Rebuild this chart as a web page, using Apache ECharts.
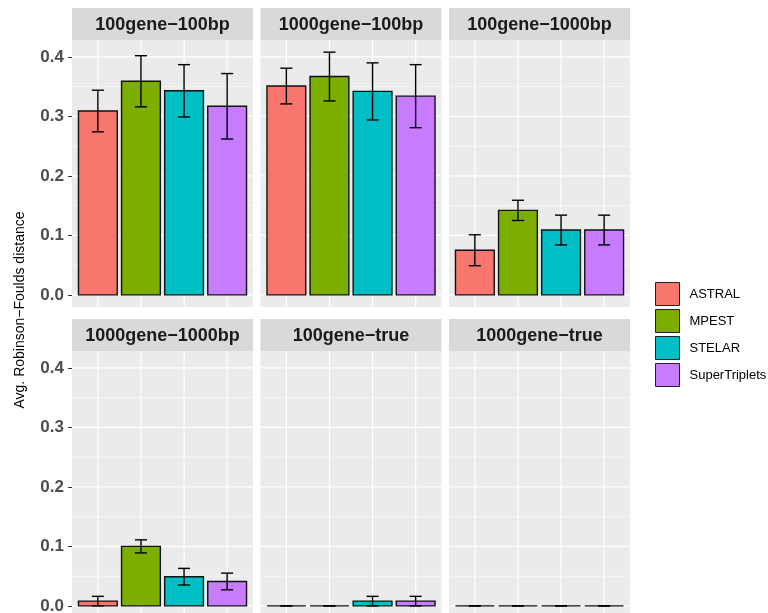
<!DOCTYPE html>
<html>
<head>
<meta charset="utf-8">
<script src="https://cdn.jsdelivr.net/npm/echarts@6/dist/echarts.min.js"></script>
<style>
html,body{margin:0;padding:0;background:#fff;overflow:hidden;}
#chart{width:768px;height:620px;}
</style>
</head>
<body>
<div id="chart"></div>
<script>
// ---- data ----
const panels = ['100gene\u2212100bp', '1000gene\u2212100bp', '100gene\u22121000bp', '1000gene\u22121000bp', '100gene\u2212true', '1000gene\u2212true'];
const methods = ['ASTRAL', 'MPEST', 'STELAR', 'SuperTriplets'];
const astral = [0.309, 0.351, 0.075, 0.008, 0, 0];
const mpest = [0.359, 0.367, 0.142, 0.100, 0, 0];
const stelar = [0.343, 0.342, 0.109, 0.049, 0.008, 0];
const supertriplets = [0.317, 0.334, 0.109, 0.041, 0.008, 0];
const astralErr = [0.035, 0.030, 0.026, 0.008, 0, 0];
const mpestErr = [0.043, 0.041, 0.017, 0.011, 0, 0];
const stelarErr = [0.044, 0.048, 0.025, 0.014, 0.008, 0];
const supertripletsErr = [0.055, 0.053, 0.025, 0.014, 0.008, 0];
const yMajor = [0, 0.1, 0.2, 0.3, 0.4];
const yMinor = [0.05, 0.15, 0.25, 0.35];
const yTitle = 'Avg. Robinson\u2212Foulds distance';

// ---- styling / layout ----
const colors = ['#F8766D', '#7CAE00', '#00BFC4', '#C77CFF'];
const means = [astral, mpest, stelar, supertriplets];
const errs = [astralErr, mpestErr, stelarErr, supertripletsErr];
const colLeft = [72, 260.5, 449];
const rowTop = [40, 351];
const pw = 181, ph = 267, stripH = 32;
const yMin = -0.0204, yMax = 0.4284;
const font = '"Liberation Sans", Arial, Helvetica, sans-serif';

const grids = [], xAxes = [], yAxes = [], series = [], graphics = [];

panels.forEach((name, p) => {
  const r = Math.floor(p / 3), c = p % 3;
  const left = colLeft[c], top = rowTop[r];
  grids.push({left: left, top: top, width: pw, height: ph, show: true, backgroundColor: '#EBEBEB', borderWidth: 0});
  xAxes.push({gridIndex: p, type: 'value', min: 0.4, max: 4.6, show: true,
    axisLine: {show: false}, axisTick: {show: false}, axisLabel: {show: false}, splitLine: {show: false}});
  const isLeft = c === 0;
  yAxes.push({gridIndex: p, type: 'value', min: yMin, max: yMax,
    axisLine: {show: false},
    splitLine: {show: false},
    axisTick: {show: isLeft, length: 4, lineStyle: {color: '#333', width: 1}, customValues: yMajor},
    axisLabel: {show: isLeft, customValues: yMajor, margin: 8,
      color: '#4D4D4D', fontSize: 17, fontWeight: 'bold', fontFamily: font,
      formatter: v => (Math.abs(v * 10 - Math.round(v * 10)) < 1e-6 && v > -1e-9 && v < 0.4 + 1e-9) ? v.toFixed(1) : ''}
  });
  // gridlines
  const gdata = [];
  yMajor.forEach(v => gdata.push([1, v, 0]));
  yMinor.forEach(v => gdata.push([1, v, 1]));
  methods.forEach((m, i) => gdata.push([i + 1, 0, 2]));
  series.push({
    type: 'custom', xAxisIndex: p, yAxisIndex: p, z: 1, silent: true,
    data: gdata, encode: {x: 0, y: 1},
    renderItem: function (params, api) {
      const cs = params.coordSys;
      const kind = api.value(2);
      if (kind === 2) {
        const px = api.coord([api.value(0), 0])[0];
        return {type: 'line', shape: {x1: px, y1: cs.y, x2: px, y2: cs.y + cs.height},
          style: {stroke: '#FFFFFF', lineWidth: 1.2}};
      }
      const py = api.coord([1, api.value(1)])[1];
      return {type: 'line', shape: {x1: cs.x, y1: py, x2: cs.x + cs.width, y2: py},
        style: {stroke: '#FFFFFF', lineWidth: kind === 0 ? 1.2 : 0.6}};
    }
  });
  // bars + error bars
  methods.forEach((m, i) => {
    series.push({
      type: 'custom', name: m, xAxisIndex: p, yAxisIndex: p, z: 3,
      itemStyle: {color: colors[i]},
      data: [[i + 1, means[i][p], errs[i][p]]], encode: {x: 0, y: 1},
      renderItem: function (params, api) {
        const x = api.value(0), v = api.value(1), e = api.value(2);
        const a = api.coord([x - 0.45, v]), b = api.coord([x + 0.45, 0]);
        const t = api.coord([x, v + e]), d = api.coord([x, v - e]);
        const capL = api.coord([x - 0.14, 0])[0], capR = api.coord([x + 0.14, 0])[0];
        const ls = {stroke: '#000', lineWidth: 1.4};
        return {type: 'group', children: [
          {type: 'rect', shape: {x: a[0], y: a[1], width: b[0] - a[0], height: b[1] - a[1]},
            style: {fill: api.visual('color'), stroke: '#111', lineWidth: 1.4}},
          {type: 'line', shape: {x1: t[0], y1: t[1], x2: d[0], y2: d[1]}, style: ls},
          {type: 'line', shape: {x1: capL, y1: t[1], x2: capR, y2: t[1]}, style: ls},
          {type: 'line', shape: {x1: capL, y1: d[1], x2: capR, y2: d[1]}, style: ls}
        ]};
      }
    });
  });
  // strip
  graphics.push({type: 'rect', shape: {x: left, y: top - stripH, width: pw, height: stripH},
    style: {fill: '#D9D9D9'}, silent: true});
  graphics.push({type: 'text', x: left + pw / 2, y: top - stripH / 2 + 1,
    style: {text: name, fill: '#1A1A1A', font: 'bold 18px ' + font, textAlign: 'center', textVerticalAlign: 'middle'}, silent: true});
});

graphics.push({type: 'text', x: 20, y: 310, rotation: Math.PI / 2,
  style: {text: yTitle, fill: '#000', font: '14px ' + font, textAlign: 'center', textVerticalAlign: 'middle'}, silent: true});

const chart = echarts.init(document.getElementById('chart'));
chart.setOption({
  animation: false,
  backgroundColor: '#FFFFFF',
  grid: grids, xAxis: xAxes, yAxis: yAxes, series: series,
  graphic: graphics,
  legend: {
    data: methods, orient: 'vertical', left: 655, top: 282, padding: 0,
    icon: 'rect', itemWidth: 24, itemHeight: 23, itemGap: 3,
    itemStyle: {borderColor: '#222', borderWidth: 1},
    textStyle: {fontSize: 13, fontFamily: font, color: '#000', padding: [0, 0, 0, 5]},
    selectedMode: false
  }
});
</script>
</body>
</html>
